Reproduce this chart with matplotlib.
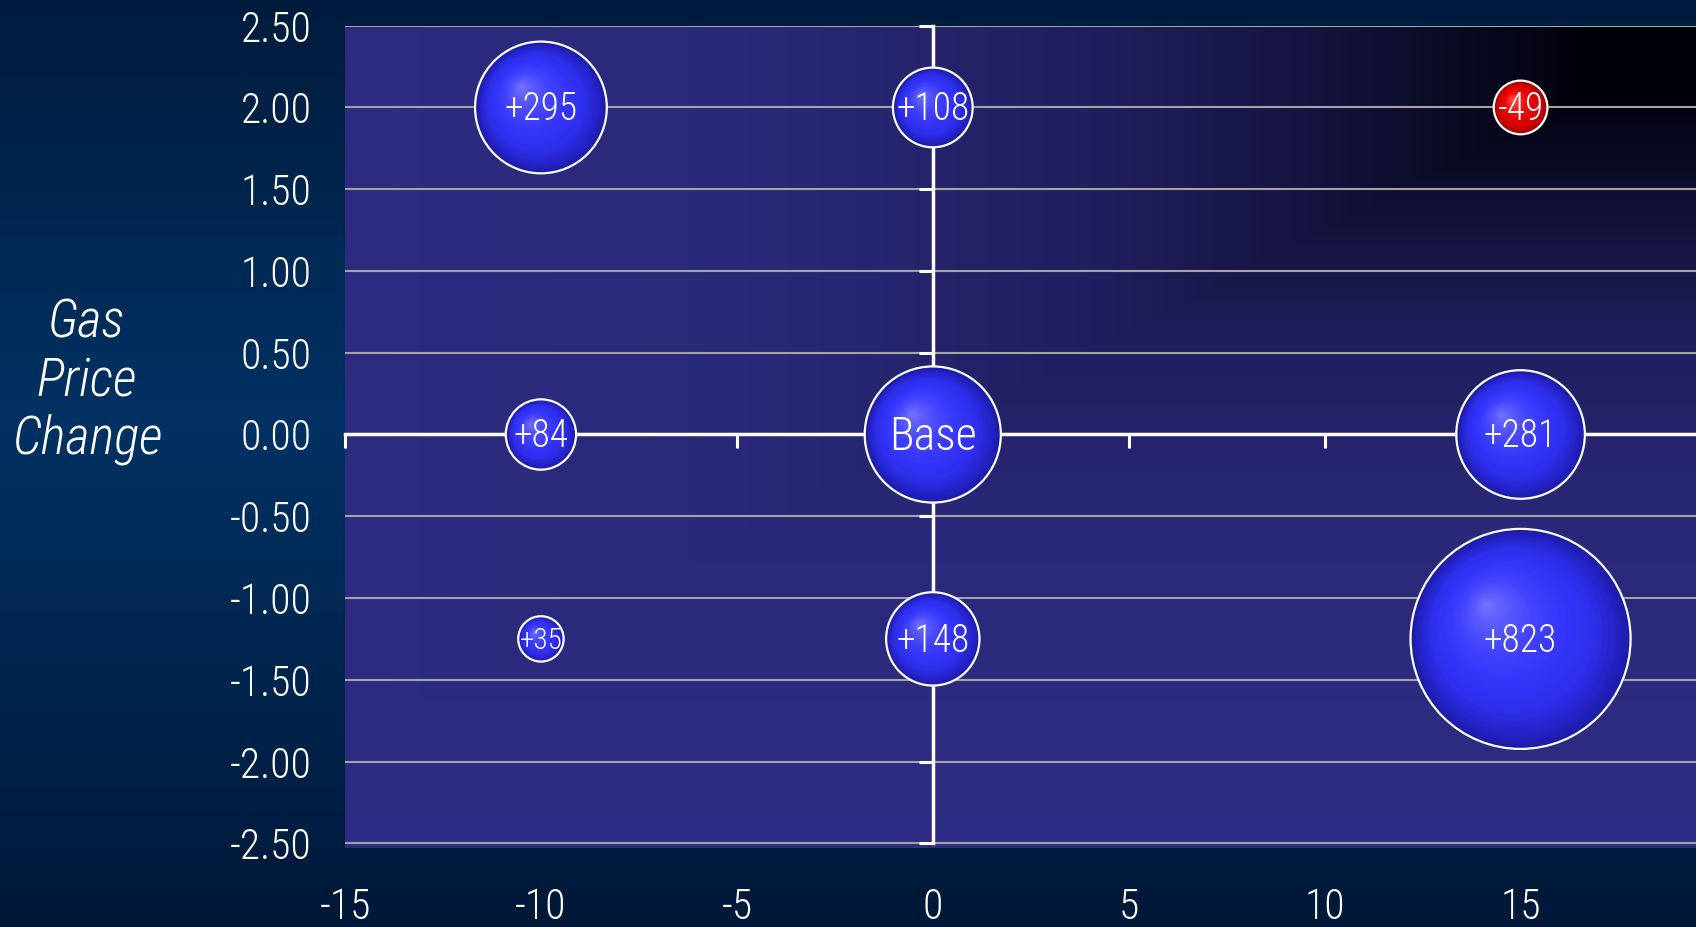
import numpy as np
import matplotlib
matplotlib.use("Agg")
import matplotlib.pyplot as plt
from matplotlib.transforms import ScaledTranslation

# ---- data -------------------------------------------------------------
x_vals = [-10, 0, 15, -10, 0, 15, -10, 0, 15]
y_vals = [2.0, 2.0, 2.0, 0.0, 0.0, 0.0, -1.25, -1.25, -1.25]
bubble_values = [295, 108, -49, 84, 315, 281, 35, 148, 823]
bubble_labels = ["+295", "+108", "-49", "+84", "Base", "+281", "+35", "+148", "+823"]

x_ticks = [-15, -10, -5, 0, 5, 10, 15]
y_ticks = [-2.5, -2.0, -1.5, -1.0, -0.5, 0.0, 0.5, 1.0, 1.5, 2.0, 2.5]
y_tick_labels = ["%.2f" % v for v in y_ticks]
y_title = "Gas\nPrice\nChange"

# ---- style ------------------------------------------------------------
NARROW = ["Liberation Sans Narrow", "Roboto Condensed", "DejaVu Sans"]
label_sizes = [27, 27, 27, 27, 33, 27, 21, 27, 27]
SIZE_PER_UNIT = 30.5          # marker area (pt^2) per unit of bubble value
PLOT_PURPLE = np.array([46, 45, 133]) / 255.0
PLOT_DARK = np.array([0, 0, 8]) / 255.0

W, H = 1696, 927
fig = plt.figure(figsize=(W / 100, H / 100), dpi=100)

# figure background: vertical navy gradient
bg = fig.add_axes([0, 0, 1, 1], zorder=-10)
yy = np.linspace(0, 1, 300)[:, None]          # 0 = top
top_c = np.array([0, 27, 60]) / 255.0
mid_c = np.array([0, 50, 99]) / 255.0
bot_c = np.array([0, 24, 56]) / 255.0
grad = np.empty((300, 1, 3))
for ch in range(3):
    grad[:, 0, ch] = np.interp(yy[:, 0], [0, 0.45, 1.0], [top_c[ch], mid_c[ch], bot_c[ch]])
bg.imshow(grad, aspect="auto", extent=[0, 1, 0, 1], origin="upper")
bg.set_axis_off()

# main plot area
left_px, right_px, top_px, bottom_px = 345, 1716.5, 25.7, 848.2
pos = [left_px / W, 1 - bottom_px / H, (right_px - left_px) / W, (bottom_px - top_px) / H]
ax = fig.add_axes(pos)
ax.patch.set_visible(False)
ax.set_xlim(-15, 20)
ax.set_ylim(-2.53, 2.5)

# plot-area fill: darkening towards the top-right corner
ny, nx = 400, 600
xf = np.linspace(0, 1, nx)[None, :]
yf = np.linspace(0, 1, ny)[:, None]
t = np.maximum(0.87 * (1 - xf), 1 - yf)
k = np.interp(t, [0, 0.08, 0.12, 0.26, 0.39, 0.6, 1.0], [0, 0.0, 0.12, 0.45, 0.68, 0.9, 1.0])
fill = PLOT_DARK[None, None, :] + k[:, :, None] * (PLOT_PURPLE - PLOT_DARK)[None, None, :]
ax.imshow(fill, extent=[0, 1, 0, 1], origin="lower", transform=ax.transAxes,
          aspect="auto", zorder=-1)

# axes crossing at the origin
for side in ("top", "right"):
    ax.spines[side].set_visible(False)
for side in ("left", "bottom"):
    ax.spines[side].set_position(("data", 0))
    ax.spines[side].set_color("white")
    ax.spines[side].set_linewidth(2.5)
ax.spines["left"].set_bounds(-2.5, 2.5)
ax.set_xticks(x_ticks + [20])
ax.set_yticks(y_ticks)
ax.tick_params(axis="both", direction="out", length=10, width=2.2, color="white",
               labelbottom=False, labelleft=False)
ax.set_axisbelow(True)
ax.yaxis.grid(True, color="#a3a3a3", linewidth=1.5)
ax.xaxis.grid(False)

# tick labels at the outer edges of the plot area
lab = fig.add_axes(pos)
lab.patch.set_visible(False)
for s in lab.spines.values():
    s.set_visible(False)
lab.set_xlim(ax.get_xlim())
lab.set_ylim(ax.get_ylim())
lab.set_xticks(x_ticks)
lab.set_xticklabels([str(v) for v in x_ticks])
lab.set_yticks(y_ticks)
lab.set_yticklabels(y_tick_labels)
lab.tick_params(axis="x", length=0, pad=28, labelsize=30, labelcolor="white")
lab.tick_params(axis="y", length=0, pad=24, labelsize=30, labelcolor="white")
for tl in lab.get_xticklabels() + lab.get_yticklabels():
    tl.set_family(NARROW)
    tl.set_fontweight("light")

fig.text(87 / W, 1 - 381 / H, y_title, ha="center", va="center", ma="center",
         fontsize=38, style="italic", color="white", family=NARROW,
         fontweight="light", linespacing=1.17)

# shaded bubbles
blue_stops = {"f": [0.0, 0.15, 0.35, 0.55, 0.75, 0.9, 1.0],
              "c": ["#7474ff", "#5c5cff", "#4242ff", "#3535fb", "#2e2eec", "#2424c8", "#1b1ba6"]}
red_stops = {"f": [0.0, 0.15, 0.35, 0.55, 0.75, 0.9, 1.0],
             "c": ["#ff5a5a", "#ff3a3a", "#f51010", "#e80000", "#d80000", "#b80000", "#8a0000"]}


def stop_color(stops, f):
    rgb = np.array([matplotlib.colors.to_rgb(c) for c in stops["c"]])
    return tuple(np.interp(f, stops["f"], rgb[:, i]) for i in range(3))


N_STEPS = 45
text_shift = ax.transData + ScaledTranslation(0, -1.5 / 72, fig.dpi_scale_trans)
for xv, yv, val, text, fs in zip(x_vals, y_vals, bubble_values, bubble_labels, label_sizes):
    s = SIZE_PER_UNIT * abs(val)
    r_pt = np.sqrt(s) / 2.0
    stops = red_stops if val < 0 else blue_stops
    for i in range(N_STEPS):
        f = 1 - i / N_STEPS
        off = (1 - f) * 0.32 * r_pt / 72.0
        tr = ax.transData + ScaledTranslation(-off, off, fig.dpi_scale_trans)
        ax.scatter([xv], [yv], s=s * f * f, color=stop_color(stops, f),
                   linewidths=0, transform=tr, zorder=4, clip_on=False)
    ax.scatter([xv], [yv], s=s, facecolors="none", edgecolors="white",
               linewidths=1.6, zorder=5, clip_on=False)
    ax.text(xv, yv, text, ha="center", va="center", color="white", fontsize=fs,
            family=NARROW, fontweight="light", zorder=6, transform=text_shift)

fig.savefig("out.png", dpi=100)
